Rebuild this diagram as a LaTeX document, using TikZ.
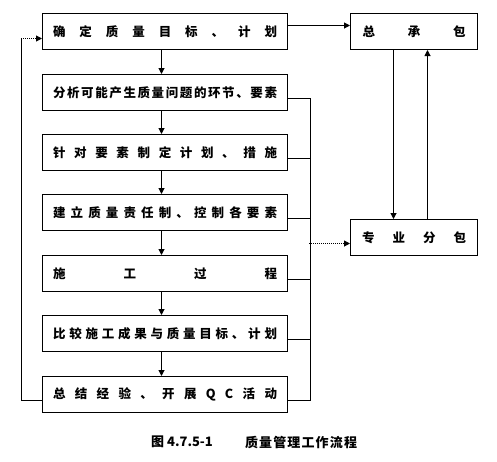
\documentclass[tikz,border=0pt]{standalone}
\usepackage{fontspec}
\setmainfont{Noto Sans CJK SC}
\usetikzlibrary{arrows.meta,calc}
\begin{document}
\begin{tikzpicture}[x=1pt,y=-1pt,
  line width=1pt,
  arr/.style={-{Triangle[length=6pt,width=6pt]}},
  lbox/.style={draw,line width=1pt,minimum width=245pt,minimum height=36pt,inner sep=0pt,anchor=north west,font=\fontsize{12.5}{14}\selectfont\bfseries},
  rbox/.style={draw,line width=1pt,minimum width=127pt,minimum height=36pt,inner sep=0pt,anchor=north west,font=\fontsize{12.5}{14}\selectfont\bfseries},
  captext/.style={font=\fontsize{13}{15}\selectfont\bfseries,inner sep=0pt}]
\useasboundingbox (0,0) rectangle (497,461);
\newcommand{\spr}[1]{\makebox[224pt][s]{#1}}
\node[lbox] (b1) at (42,13)  {\spr{确\hfill 定\hfill 质\hfill 量\hfill 目\hfill 标\hfill 、\hfill 计\hfill 划}};
\node[lbox] (b2) at (42,74)  {\spr{分\hfill 析\hfill 可\hfill 能\hfill 产\hfill 生\hfill 质\hfill 量\hfill 问\hfill 题\hfill 的\hfill 环\hfill 节\hfill 、\hfill 要\hfill 素}};
\node[lbox] (b3) at (42,134) {\spr{针\hfill 对\hfill 要\hfill 素\hfill 制\hfill 定\hfill 计\hfill 划\hfill 、\hfill 措\hfill 施}};
\node[lbox] (b4) at (42,194) {\spr{建\hfill 立\hfill 质\hfill 量\hfill 责\hfill 任\hfill 制\hfill 、\hfill 控\hfill 制\hfill 各\hfill 要\hfill 素}};
\node[lbox] (b5) at (42,255) {\spr{施\hfill 工\hfill 过\hfill 程}};
\node[lbox] (b6) at (42,315) {\spr{比\hfill 较\hfill 施\hfill 工\hfill 成\hfill 果\hfill 与\hfill 质\hfill 量\hfill 目\hfill 标\hfill 、\hfill 计\hfill 划}};
\node[lbox] (b7) at (42,376) {\spr{总\hfill 结\hfill 经\hfill 验\hfill 、\hfill 开\hfill 展\hfill Q\hfill C\hfill 活\hfill 动}};
\node[rbox] (zc) at (350,13)  {\makebox[103pt][s]{总\hfill 承\hfill 包}};
\node[rbox] (fb) at (350,219) {\makebox[104pt][s]{专\hfill 业\hfill 分\hfill 包}};
% down arrows
\foreach \a/\b in {b1/b2,b2/b3,b3/b4,b4/b5,b5/b6,b6/b7}
  \draw[arr] ($(\a.south)+(-3.5,0)$) -- ($(\b.north)+(-3.5,0)$);
% top arrow to zc
\draw[arr] ($(b1.east)+(0,-6)$) -- ($(zc.west)+(0,-6)$);
% between right boxes
\draw[arr] ($(zc.south)+(-20.5,0)$) -- ($(fb.north)+(-20.5,0)$);
\draw[arr] ($(fb.north)+(13.5,0)$) -- ($(zc.south)+(13.5,0)$);
% bus
\coordinate (bt) at ($(b2.east)+(22,6)$);
\draw ($(b2.east)+(0,6)$) -- (bt) |- ($(b7.east)+(0,6)$);
\foreach \b in {b3,b4,b5,b6}
  \draw ($(\b.east)+(0,6)$) -- ++(22,0);
\draw[densely dotted,arr] ($(fb.west)+(-41,6)$) -- ($(fb.west)+(0,6)$);
% feedback
\coordinate (fk) at ($(b1.west)+(-21,7)$);
\draw ($(b7.west)+(0,6)$) -| (fk);
\draw[densely dotted,arr] (fk) -- ($(b1.west)+(0,7)$);
% caption
\node[captext] (c1) at (182,442) {图 4.7.5-1};
\node[captext] (c2) at (301,442) {\makebox[112pt][s]{质\hfill 量\hfill 管\hfill 理\hfill 工\hfill 作\hfill 流\hfill 程}};
\end{tikzpicture}
\end{document}
